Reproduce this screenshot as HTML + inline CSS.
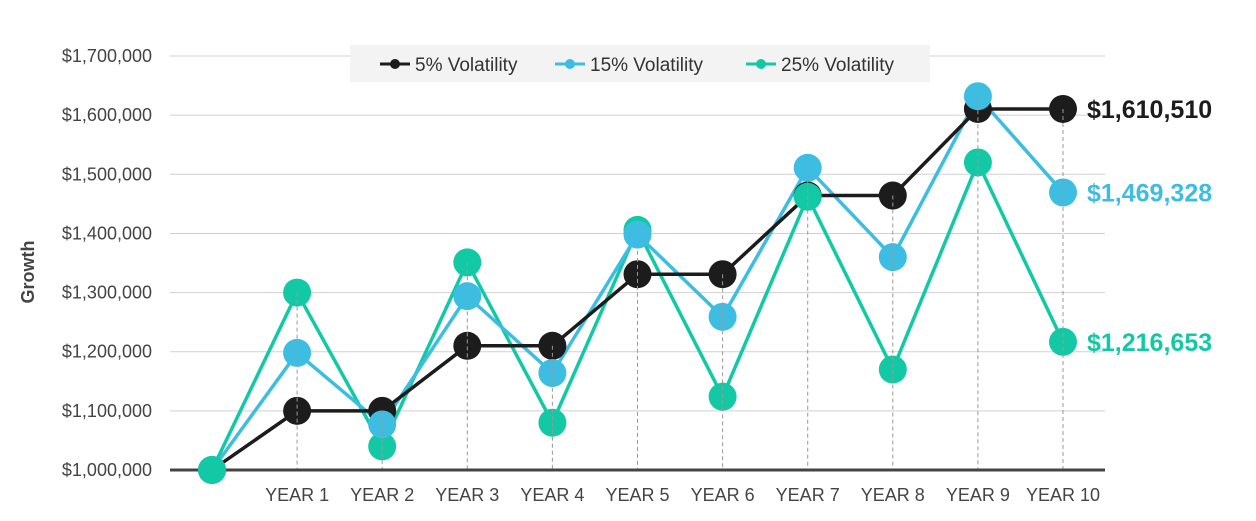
<!DOCTYPE html>
<html><head><meta charset="utf-8"><style>
body{margin:0;background:#fff;}
svg{display:block;font-family:"Liberation Sans",Arial,sans-serif;}
</style></head><body>
<svg id="chart" width="1256" height="521"></svg>
<script>
const categories=["","YEAR 1","YEAR 2","YEAR 3","YEAR 4","YEAR 5","YEAR 6","YEAR 7","YEAR 8","YEAR 9","YEAR 10"];
const vol5=[1000000,1100000,1100000,1210000,1210000,1331000,1331000,1464100,1464100,1610510,1610510];
const vol15=[1000000,1198000,1077000,1294000,1164000,1398000,1259000,1511000,1360000,1632000,1469328];
const vol25=[1000000,1300000,1040000,1351000,1080000,1406000,1124000,1462000,1170000,1520000,1216653];
const yTicks=[1000000,1100000,1200000,1300000,1400000,1500000,1600000,1700000];
const seriesNames=["5% Volatility","15% Volatility","25% Volatility"];
const endLabels=["$1,610,510","$1,469,328","$1,216,653"];
const colors=["#1c1c1c","#3dbde2","#13c9a5"];
const NS="http://www.w3.org/2000/svg";
const svg=document.getElementById('chart');
function el(t,a,p){const e=document.createElementNS(NS,t);for(const k in a)e.setAttribute(k,a[k]);(p||svg).appendChild(e);return e;}
const x=i=>212+i*85.1;
const y=v=>470-(v-1000000)/100000*59.14;
const fmt=v=>"$"+v.toLocaleString("en-US");
// grid
yTicks.forEach(t=>{
  if(t>1000000){const g=el('line',{x1:170,x2:1105,y1:y(t),y2:y(t),stroke:'#d0d0d0','stroke-width':1});
  
  }
  const l=el('text',{x:152,y:y(t)+6,'text-anchor':'end','font-size':18,fill:'#444'});
  l.textContent=fmt(t);
  
  
});
const yt=el('text',{x:34,y:272,'text-anchor':'middle','font-size':18,'font-weight':'bold',fill:'#444',transform:'rotate(-90 34 272)'});
yt.textContent="Growth";


// series
const all=[vol5,vol15,vol25];
[2,1,0].forEach(s=>{
  const d=all[s].map((v,i)=>(i?'L':'M')+x(i)+' '+y(v)).join(' ');
  const p=el('path',{d:d,fill:'none',stroke:colors[s],'stroke-width':3.5,'stroke-linejoin':'round'});
  
  
});
[0,2,1].forEach(s=>{
  all[s].forEach((v,i)=>{
    const c=el('circle',{cx:x(i),cy:y(v),r:14,fill:colors[s]});
    
    
  });
});
// drop lines and x labels
categories.forEach((c,i)=>{
  if(i>0){
    const top=Math.min(vol5[i],vol15[i],vol25[i]);
    const mx=Math.max(vol5[i],vol15[i],vol25[i]);
    const dl=el('line',{x1:x(i),x2:x(i),y1:y(mx),y2:470,stroke:'#999','stroke-width':1,'stroke-dasharray':'4 3'});
    
    
    const t=el('text',{x:x(i),y:501,'text-anchor':'middle','font-size':18,fill:'#444'});
    t.textContent=c;
    
    
  }
});
const ax=el('line',{x1:170,x2:1105,y1:470,y2:470,stroke:'#444','stroke-width':3});


// redraw first point on top of axis
const f=el('circle',{cx:x(0),cy:y(vol25[0]),r:14,fill:colors[2]});


// end labels
all.forEach((arr,s)=>{
  const t=el('text',{x:1087,y:y(arr[10])+9,'font-size':25,'font-weight':'bold',fill:colors[s]});
  t.textContent=endLabels[s];
  
  
});
// legend
const lg=el('g',{});


el('rect',{x:350,y:45,width:580,height:37,fill:'#f3f3f3'},lg);
const lx=[380,555,746];
seriesNames.forEach((n,s)=>{
  const g=el('g',{},lg);
  
  
  el('line',{x1:lx[s],x2:lx[s]+30,y1:64,y2:64,stroke:colors[s],'stroke-width':3},g);
  el('circle',{cx:lx[s]+15,cy:64,r:5,fill:colors[s]},g);
  const t=el('text',{x:lx[s]+35,y:71,'font-size':19,fill:'#333'},g);
  t.textContent=n;
});
</script>
</body></html>
